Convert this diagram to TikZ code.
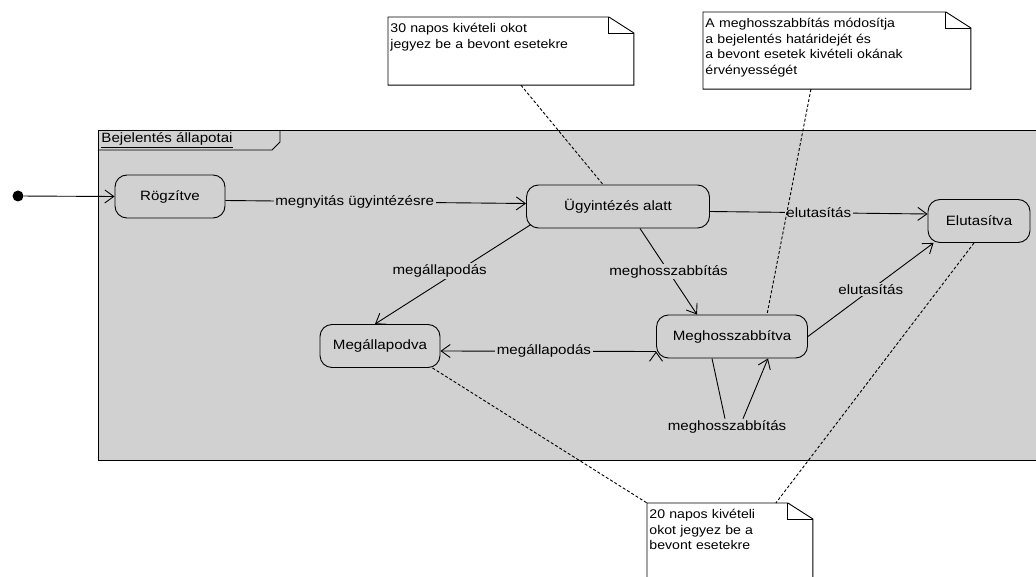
\documentclass[tikz,border=0pt]{standalone}
\usepackage{fontspec}
\setmainfont{Liberation Sans}[FakeStretch=1.12]
\usepackage{tikz}
\usetikzlibrary{arrows.meta}

\begin{document}
\begin{tikzpicture}[x=1pt, y=-1pt, >={Straight Barb[length=9pt, width=13pt]}, line width=0.9pt,
  font=\fontsize{13.5}{15}\selectfont,
  state/.style={rectangle, rounded corners=12pt, draw, fill=black!18, inner sep=2pt, minimum height=43pt},
  lbl/.style={fill=black!18, inner sep=1.5pt},
  trans/.style={->},
  note/.style={rectangle, anchor=north west, align=left, inner xsep=2pt, inner ysep=6pt, font=\fontsize{12.6}{15.5}\selectfont},
  dots/.style={dash pattern=on 3pt off 2pt}]
\useasboundingbox (0,0) rectangle (1036,577);
\clip (0,0) rectangle (1036,577);

% frame of the state machine
\draw[fill=black!18] (98,130) rectangle (1050,460);
\draw (98,150) -- (272,150) -- (280,142) -- (280,130);
\node[anchor=west, inner sep=1pt] (tab) at (100,140) {\underline{Bejelentés állapotai}};

% states
\node[circle, fill, inner sep=0pt, minimum size=11pt] (init) at (18,196) {};
\node[state, minimum width=110pt] (rogz) at (170,196.5) {Rögzítve};
\node[state, minimum width=183pt] (ugy) at (618,206.5) {Ügyintézés alatt};
\node[state, minimum width=102pt] (elut) at (979,221) {Elutasítva};
\node[state, minimum width=120pt] (megall) at (380,346) {Megállapodva};
\node[state, minimum width=151pt] (megh) at (732,336.5) {Meghosszabbítva};

% transitions
\draw[trans] (init) -- (rogz.west);
\draw[trans]
([yshift=-4]rogz.east) edge node[lbl, pos=0.43] {megnyitás ügyintézésre} ([yshift=3]ugy.west)
([yshift=-5]ugy.east) edge node[lbl] {elutasítás} ([yshift=7]elut.west)

([xshift=5, yshift=4]ugy.south west) edge node[lbl, pos=0.47, xshift=-18] {megállapodás} ([xshift=-5]megall.north)
([xshift=22]ugy.south) edge node[lbl] {meghosszabbítás} ([xshift=-35]megh.north)

(megh.east) edge node[lbl] {elutasítás} ([xshift=6]elut.south west)
([yshift=-15]megh.west) edge node[lbl, pos=0.52] {megállapodás} ([yshift=-5]megall.east);

% self transition
\node[lbl] (loop) at (727,427) {meghosszabbítás};
\draw ([xshift=-20]megh.south) -- ([xshift=-2]loop.north);
\draw[trans] ([xshift=16]loop.north) -- ([xshift=36]megh.south);

% notes
\node[note, text width=241pt, text depth=46pt] (nA) at (388,17) {30 napos kivételi okot\\jegyez be a bevont esetekre};
\node[note, text width=263pt, text depth=55pt] (nB) at (703,12) {A meghosszabbítás módosítja\\a bejelentés határidejét és\\a bevont esetek kivételi okának\\érvényességét};
\node[note, text width=161pt, text depth=67pt] (nC) at (647,503) {20 napos kivételi\\okot jegyez be a\\bevont esetekre};
\foreach \n in {nA,nB,nC} {
  \draw (\n.north west) -- ([xshift=-25]\n.north east) -- ([yshift=-16]\n.north east) -- (\n.south east) -- (\n.south west) -- cycle;
  \draw ([xshift=-25]\n.north east) |- ([yshift=-16]\n.north east);
}
\draw[dots] ([xshift=10]nA.south) -- ([xshift=-15]ugy.north);
\draw[dots] ([xshift=-26]nB.south) -- ([xshift=35]megh.north);
\draw[dots] ([xshift=-8]megall.south east) -- (nC.north west);
\draw[dots] ([xshift=-5]elut.south) -- ([xshift=-37]nC.north east);
\end{tikzpicture}
\end{document}
